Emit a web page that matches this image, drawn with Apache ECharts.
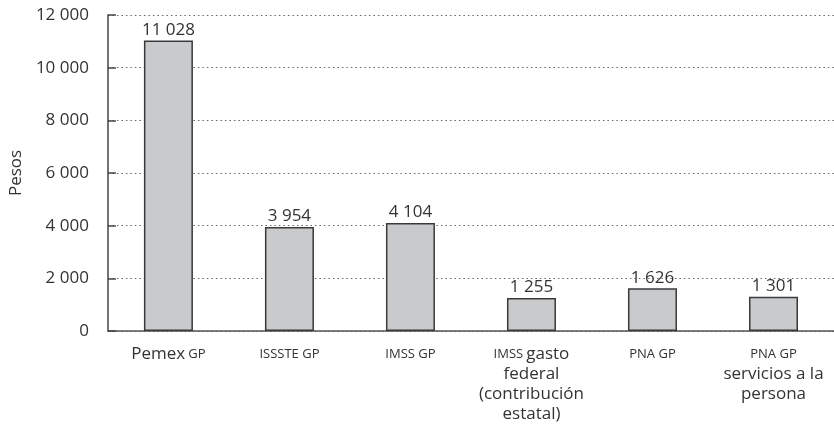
<!DOCTYPE html>
<html><head><meta charset="utf-8">
<script src="https://cdn.jsdelivr.net/npm/echarts@6/dist/echarts.min.js"></script>
<style>html,body{margin:0;padding:0;background:#fff}#c{width:834px;height:428px}</style>
</head><body><div id="c"></div>
<script>
var categories = ["Pemex GP", "ISSSTE GP", "IMSS GP", "IMSS gasto federal (contribución estatal)", "PNA GP", "PNA GP servicios a la persona"];
var values = [11028, 3954, 4104, 1255, 1626, 1301];
var yTicks = [0, 2000, 4000, 6000, 8000, 10000, 12000];
var yAxisName = "Pesos";

var richLabels = [
  "{b|Pemex} {s|GP}",
  "{s|ISSSTE GP}",
  "{s|IMSS GP}",
  "{s|IMSS} {b|gasto}\n{b|federal}\n{b|(contribución}\n{b|estatal)}",
  "{s|PNA GP}",
  "{s|PNA GP}\n{b|servicios a la}\n{b|persona}"
];
function fmt(v){ return String(v).replace(/\B(?=(\d{3})+(?!\d))/g, ' '); }

var chart = echarts.init(document.getElementById('c'));
var txt = '#333';
var ff = '"Open Sans", "Noto Sans", sans-serif';
chart.setOption({
  animation: false,
  textStyle: { fontFamily: ff },
  grid: { left: 101, top: 15, width: 738, height: 316, containLabel: false },
  xAxis: {
    type: 'category', data: categories,
    axisLine: { lineStyle: { color: '#555', width: 1.5 } },
    axisTick: { inside: true, length: 7, lineStyle: { color: '#444', width: 1.5 } },
    axisLabel: {
      margin: 13, interval: 0, color: txt,
      formatter: function(v, i){ return richLabels[i]; },
      rich: {
        b: { fontSize: 17, lineHeight: 20, color: txt, fontFamily: ff },
        s: { fontSize: 13, lineHeight: 20, color: txt, fontFamily: ff }
      }
    }
  },
  yAxis: {
    type: 'value', min: yTicks[0], max: yTicks[yTicks.length-1], interval: 2000,
    name: yAxisName, nameLocation: 'middle', nameGap: 78, nameRotate: 90,
    nameTextStyle: { fontSize: 17, color: txt, fontFamily: ff },
    axisLine: { show: true, lineStyle: { color: '#444', width: 1.5 } },
    axisTick: { show: true, inside: true, length: 8, lineStyle: { color: '#444', width: 1.5 } },
    axisLabel: { margin: 19, fontSize: 17, color: txt, fontFamily: ff, formatter: fmt },
    splitLine: { show: true, lineStyle: { type: [1.5, 3], color: '#666', width: 1 } }
  },
  series: [{
    type: 'bar', data: values, barWidth: 49,
    itemStyle: { color: '#c9cacc', borderColor: '#3a3a3a', borderWidth: 1.5 },
    label: { show: true, position: 'top', distance: 2, fontSize: 17, color: txt, fontFamily: ff,
      formatter: function(p){ return fmt(p.value); } }
  }]
});
</script></body></html>
